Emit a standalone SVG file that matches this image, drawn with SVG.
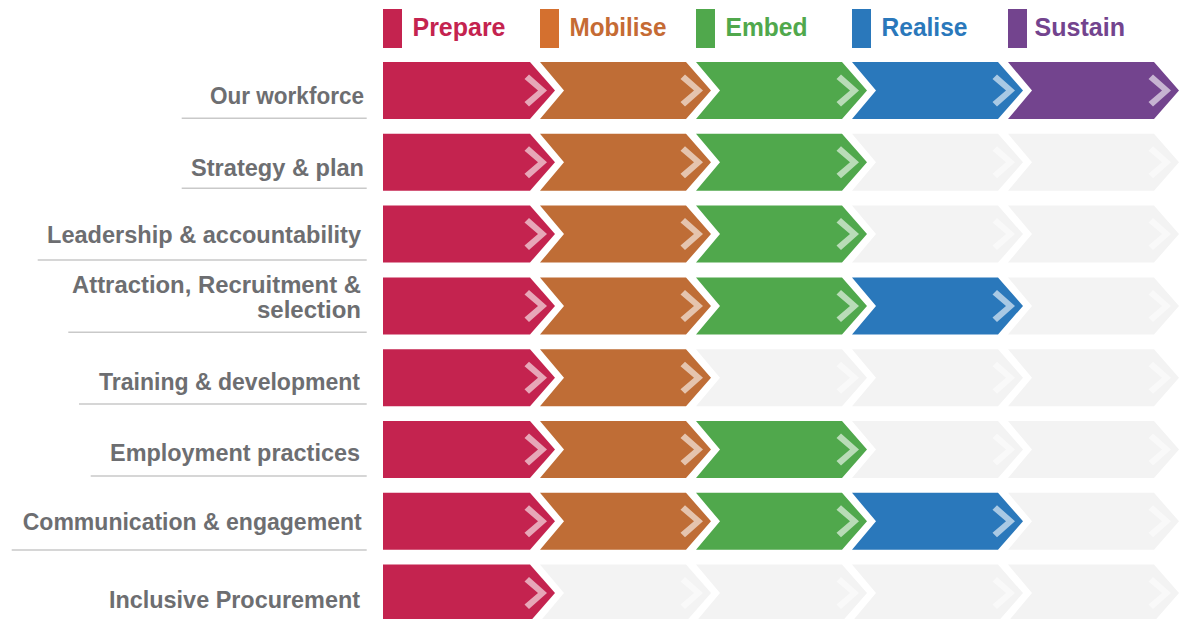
<svg xmlns="http://www.w3.org/2000/svg" xmlns:xlink="http://www.w3.org/1999/xlink" width="1186" height="619" viewBox="0 0 1186 619">
<style>
.lbl{font-family:"Liberation Sans",Arial,sans-serif;font-weight:bold;font-size:23px;fill:#6d6e71;text-anchor:end}
.leg{font-family:"Liberation Sans",Arial,sans-serif;font-weight:bold;font-size:26px}
.rule{stroke:#c9c9c9;stroke-width:1.5;fill:none}
.red{fill:#c4234f}
.org{fill:#bf6d36}
.grn{fill:#50a84c}
.blu{fill:#2a78bb}
.pur{fill:#73448e}
.gry{fill:#f3f3f3}
.arr{fill:#ffffff;fill-opacity:0.6}
.arrg{fill:#ffffff;fill-opacity:0.5}
</style>
<defs>
<path id="first" d="M0,0 H147 L172,28.5 L147,57 H0 Z"/>
<path id="mid" d="M0,0 H146 L171,28.5 L146,57 H0 L24,28.5 Z"/>
<path id="arrow" d="M-30.5,-11.5 L-26,-16 L-8,0 L-26,16 L-30.5,11.5 L-17,0 Z"/>
<g id="c1"><use href="#first" class="red"/><use href="#arrow" x="172" y="28.5" class="arr"/></g>
<g id="c2"><use href="#mid" x="157" class="org"/><use href="#arrow" x="328" y="28.5" class="arr"/></g>
<g id="c3"><use href="#mid" x="313" class="grn"/><use href="#arrow" x="484" y="28.5" class="arr"/></g>
<g id="c4"><use href="#mid" x="469" class="blu"/><use href="#arrow" x="640" y="28.5" class="arr"/></g>
<g id="c5"><use href="#mid" x="625" class="pur"/><use href="#arrow" x="796" y="28.5" class="arr"/></g>
<g id="g2"><use href="#mid" x="157" class="gry"/><use href="#arrow" x="328" y="28.5" class="arrg"/></g>
<g id="g3"><use href="#mid" x="313" class="gry"/><use href="#arrow" x="484" y="28.5" class="arrg"/></g>
<g id="g4"><use href="#mid" x="469" class="gry"/><use href="#arrow" x="640" y="28.5" class="arrg"/></g>
<g id="g5"><use href="#mid" x="625" class="gry"/><use href="#arrow" x="796" y="28.5" class="arrg"/></g>
</defs>
<rect width="1186" height="619" fill="#ffffff"/>

<g id="legend">
<g id="leg-prepare"><rect x="383" y="9" width="19" height="39" fill="#c4234f"/><text class="leg" x="412.5" y="36" fill="#c4234f" textLength="93" lengthAdjust="spacingAndGlyphs">Prepare</text></g>
<g id="leg-mobilise"><rect x="540" y="9" width="19" height="39" fill="#d4702f"/><text class="leg" x="569.5" y="36" fill="#c56b34" textLength="97" lengthAdjust="spacingAndGlyphs">Mobilise</text></g>
<g id="leg-embed"><rect x="696" y="9" width="19" height="39" fill="#50a84c"/><text class="leg" x="725.5" y="36" fill="#50a84c" textLength="82" lengthAdjust="spacingAndGlyphs">Embed</text></g>
<g id="leg-realise"><rect x="852" y="9" width="19" height="39" fill="#2a78bb"/><text class="leg" x="881.5" y="36" fill="#2a78bb" textLength="86" lengthAdjust="spacingAndGlyphs">Realise</text></g>
<g id="leg-sustain"><rect x="1008" y="9" width="19" height="39" fill="#73448e"/><text class="leg" x="1034.5" y="36" fill="#73448e" textLength="90.5" lengthAdjust="spacingAndGlyphs">Sustain</text></g>
</g>

<g id="rules">
<line class="rule" x1="181.7" y1="118.3" x2="366.7" y2="118.3"/>
<line class="rule" x1="181.7" y1="188.3" x2="366.7" y2="188.3"/>
<line class="rule" x1="37.7" y1="260" x2="366.7" y2="260"/>
<line class="rule" x1="68.3" y1="332.3" x2="366.7" y2="332.3"/>
<line class="rule" x1="79" y1="404" x2="366.7" y2="404"/>
<line class="rule" x1="90.7" y1="476" x2="366.7" y2="476"/>
<line class="rule" x1="11.7" y1="550" x2="366.7" y2="550"/>
</g>

<g id="row1">
<text class="lbl" x="364" y="104.3" textLength="154" lengthAdjust="spacingAndGlyphs">Our workforce</text>
<g transform="translate(383,62)"><use href="#c1"/><use href="#c2"/><use href="#c3"/><use href="#c4"/><use href="#c5"/></g>
</g>
<g id="row2">
<text class="lbl" x="364" y="175.7" textLength="173" lengthAdjust="spacingAndGlyphs">Strategy &amp; plan</text>
<g transform="translate(383,133.8)"><use href="#c1"/><use href="#c2"/><use href="#c3"/><use href="#g4"/><use href="#g5"/></g>
</g>
<g id="row3">
<text class="lbl" x="361" y="243.3" textLength="314" lengthAdjust="spacingAndGlyphs">Leadership &amp; accountability</text>
<g transform="translate(383,205.6)"><use href="#c1"/><use href="#c2"/><use href="#c3"/><use href="#g4"/><use href="#g5"/></g>
</g>
<g id="row4">
<text class="lbl" x="361" y="293.3" textLength="289" lengthAdjust="spacingAndGlyphs">Attraction, Recruitment &amp;</text>
<text class="lbl" x="361" y="318.3" textLength="104" lengthAdjust="spacingAndGlyphs">selection</text>
<g transform="translate(383,277.4)"><use href="#c1"/><use href="#c2"/><use href="#c3"/><use href="#c4"/><use href="#g5"/></g>
</g>
<g id="row5">
<text class="lbl" x="360" y="390" textLength="261" lengthAdjust="spacingAndGlyphs">Training &amp; development</text>
<g transform="translate(383,349.2)"><use href="#c1"/><use href="#c2"/><use href="#g3"/><use href="#g4"/><use href="#g5"/></g>
</g>
<g id="row6">
<text class="lbl" x="360" y="461" textLength="250" lengthAdjust="spacingAndGlyphs">Employment practices</text>
<g transform="translate(383,421)"><use href="#c1"/><use href="#c2"/><use href="#c3"/><use href="#g4"/><use href="#g5"/></g>
</g>
<g id="row7">
<text class="lbl" x="361.7" y="530" textLength="339" lengthAdjust="spacingAndGlyphs">Communication &amp; engagement</text>
<g transform="translate(383,492.8)"><use href="#c1"/><use href="#c2"/><use href="#c3"/><use href="#c4"/><use href="#g5"/></g>
</g>
<g id="row8">
<text class="lbl" x="360" y="607.7" textLength="251" lengthAdjust="spacingAndGlyphs">Inclusive Procurement</text>
<g transform="translate(383,564.6)"><use href="#c1"/><use href="#g2"/><use href="#g3"/><use href="#g4"/><use href="#g5"/></g>
</g>
</svg>
